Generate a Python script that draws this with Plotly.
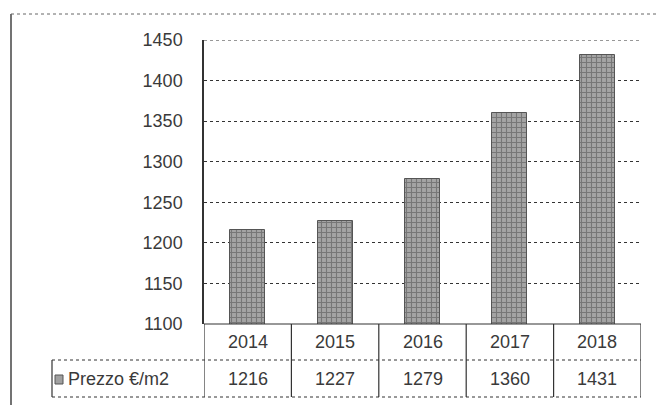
import plotly.graph_objects as go

years = ["2014", "2015", "2016", "2017", "2018"]
prezzo = [1216, 1227, 1279, 1360, 1431]
series_name = "Prezzo €/m2"
y_ticks = [1100, 1150, 1200, 1250, 1300, 1350, 1400, 1450]

W, H = 657, 405
L, R, T, B = 204, 641, 40, 324   # plot area in pixels

def px(x):  # pixel x -> paper
    return (x - L) / (R - L)

def py(y):  # pixel y -> paper
    return (B - y) / (B - T)

FONT = "Liberation Sans"
TXT = "#3a3a3a"
LINE = "#333333"

fig = go.Figure()
fig.add_trace(go.Bar(
    x=list(range(len(years))), y=prezzo, base=0, width=0.4,
    marker=dict(color="#999999", line=dict(color="#555555", width=1),
                pattern=dict(shape="+", fgcolor="#4a4a4a", bgcolor="#a4a4a4",
                             size=5, solidity=0.4)),
    showlegend=False, name=series_name,
))

shapes = []
# outer frame (left & top visible)
shapes.append(dict(type="line", xref="paper", yref="paper", x0=px(11), x1=px(11), y0=py(14), y1=py(405),
                   line=dict(color="#444", width=1.5)))
shapes.append(dict(type="line", xref="paper", yref="paper", x0=px(11), x1=px(657), y0=py(14), y1=py(14),
                   line=dict(color="#666", width=1, dash="dot")))
# top gridline (at range edge)
shapes.append(dict(type="line", xref="paper", yref="y", x0=0, x1=1, y0=y_ticks[-1], y1=y_ticks[-1],
                   line=dict(color="#333", width=1, dash="dot"), layer="below"))
# table lines
row_mid, row_bot = 360, 397
for i in range(len(years) + 1):
    shapes.append(dict(type="line", xref="x", yref="paper", x0=i - 0.5, x1=i - 0.5, y0=py(B), y1=py(row_bot),
                       line=dict(color=LINE, width=1.2)))
shapes.append(dict(type="line", xref="paper", yref="paper", x0=px(52), x1=1, y0=py(row_mid), y1=py(row_mid),
                   line=dict(color=LINE, width=1, dash="dot")))
shapes.append(dict(type="line", xref="paper", yref="paper", x0=px(52), x1=1, y0=py(row_bot), y1=py(row_bot),
                   line=dict(color=LINE, width=1, dash="dot")))
shapes.append(dict(type="line", xref="paper", yref="paper", x0=px(52), x1=px(52), y0=py(row_mid), y1=py(row_bot),
                   line=dict(color=LINE, width=1.2)))
shapes.append(dict(type="line", xref="paper", yref="paper", x0=0, x1=1, y0=0, y1=0,
                   line=dict(color=LINE, width=1.2)))
# legend key
shapes.append(dict(type="rect", xref="paper", yref="paper", x0=px(55), x1=px(63), y0=py(375), y1=py(384),
                   fillcolor="#a0a0a0", line=dict(color="#555", width=1)))

ann = []
for i, (yr, v) in enumerate(zip(years, prezzo)):
    ann.append(dict(x=i, y=py((B + row_mid) / 2), xref="x", yref="paper", text=yr, showarrow=False,
                    yanchor="middle", xanchor="center", font=dict(family=FONT, size=18, color=TXT)))
    ann.append(dict(x=i, y=py((row_mid + row_bot) / 2), xref="x", yref="paper", text=str(v), showarrow=False,
                    yanchor="middle", xanchor="center", font=dict(family=FONT, size=18, color=TXT)))
ann.append(dict(x=px(66), y=py((row_mid + row_bot) / 2), xref="paper", yref="paper", text=series_name,
                xanchor="left", yanchor="middle", showarrow=False, font=dict(family=FONT, size=18, color=TXT)))

fig.update_layout(
    width=W, height=H, margin=dict(l=L, r=W - R, t=T, b=H - B),
    paper_bgcolor="white", plot_bgcolor="white",
    shapes=shapes, annotations=ann, bargap=0,
    xaxis=dict(range=[-0.5, len(years) - 0.5], showticklabels=False, showgrid=False, zeroline=False,
               fixedrange=True),
    yaxis=dict(range=[1100, 1450], tickvals=y_ticks, ticktext=[str(t) for t in y_ticks],
               showgrid=True, gridcolor="#333", griddash="dot", gridwidth=1,
               showline=True, linecolor=LINE, linewidth=1.5, zeroline=False, ticks="",
               ticklabelstandoff=16, fixedrange=True,
               tickfont=dict(family=FONT, size=18, color=TXT)),
)

fig.write_html("out.html", config={"displayModeBar": False},
               post_script="document.body.style.margin='0';document.body.style.overflow='hidden';")
